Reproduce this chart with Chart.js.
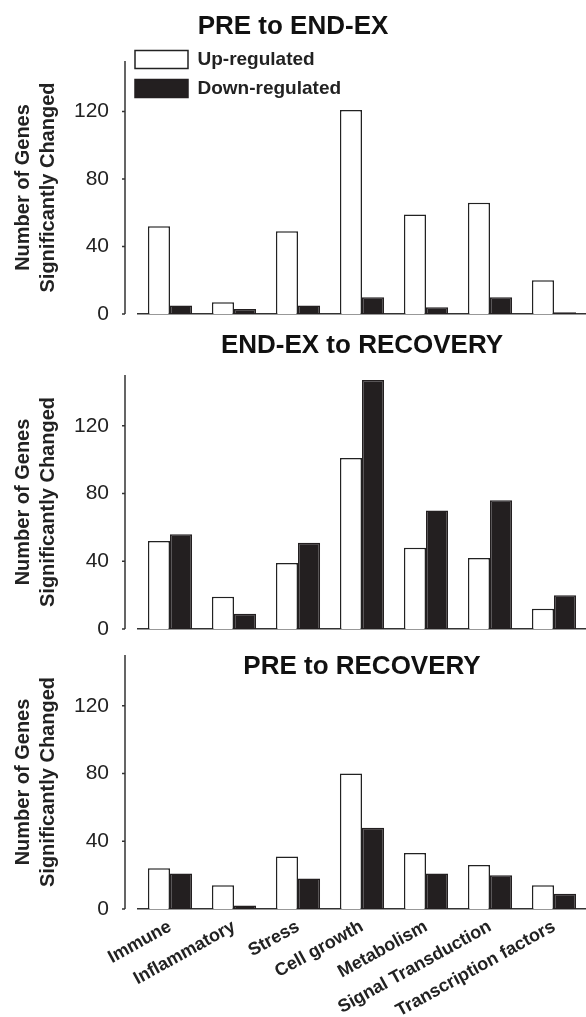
<!DOCTYPE html>
<html>
<head>
<meta charset="utf-8">
<script src="https://cdn.jsdelivr.net/npm/chart.js@4.4.1/dist/chart.umd.min.js"></script>
<style>
  body { margin: 0; background: #fff; }
  .panel { position: absolute; left: 0; width: 586px; }
</style>
</head>
<body>
<div class="panel" style="top:0;height:330px"><canvas id="chartPreEnd"></canvas></div>
<div class="panel" style="top:330px;height:310px"><canvas id="chartEndRec"></canvas></div>
<div class="panel" style="top:640px;height:377px"><canvas id="chartPreRec"></canvas></div>
<script>
const categories = ['Immune', 'Inflammatory', 'Stress', 'Cell growth', 'Metabolism', 'Signal Transduction', 'Transcription factors'];
const yTicks = [0, 40, 80, 120];
const yMax = 150;

// PRE to END-EX
const preEndUp = [52, 7, 49, 121, 59, 66, 20];
const preEndDown = [5, 3, 5, 10, 4, 10, 1];
// END-EX to RECOVERY
const endRecUp = [52, 19, 39, 101, 48, 42, 12];
const endRecDown = [56, 9, 51, 147, 70, 76, 20];
// PRE to RECOVERY
const preRecUp = [24, 14, 31, 80, 33, 26, 14];
const preRecDown = [21, 2, 18, 48, 21, 20, 9];

const FONT = "'Liberation Sans', Arial, Helvetica, sans-serif";
const INK = '#231f20';

// y axis sits a bit left of the plot, detached from the x axis line
const detachedYAxis = {
    id: 'detachedYAxis',
    afterDraw(chart) {
        const y = chart.scales.y;
        const x0 = chart.chartArea.left - 13;
        const ctx = chart.ctx;
        ctx.save();
        ctx.strokeStyle = '#333';
        ctx.lineWidth = 1.5;
        ctx.beginPath();
        ctx.moveTo(x0, y.getPixelForValue(yMax));
        ctx.lineTo(x0, y.getPixelForValue(0));
        yTicks.forEach(v => {
            const py = y.getPixelForValue(v);
            ctx.moveTo(x0 - 3, py);
            ctx.lineTo(x0, py);
        });
        ctx.stroke();
        ctx.restore();
    }
};

// legend floats inside the top-left of the plot
const legendInPlot = {
    id: 'legendInPlot',
    afterLayout(chart) {
        const lg = chart.legend;
        if (!lg || !lg.options.display) return;
        const a = chart.chartArea;
        const w = lg.width, h = lg.height;
        lg.left = a.left - 13;
        lg.top = a.top - 21;
        lg.right = lg.left + w;
        lg.bottom = lg.top + h;
    }
};

function createBarChart(id, up, down, titleText, cfg) {
    const ctx = document.getElementById(id).getContext('2d');
    return new Chart(ctx, {
        type: 'bar',
        data: {
            labels: categories,
            datasets: [
                {
                    label: 'Up-regulated',
                    data: up,
                    backgroundColor: '#ffffff',
                    borderColor: '#222',
                    borderWidth: 1.5
                },
                {
                    label: 'Down-regulated',
                    data: down,
                    backgroundColor: INK,
                    borderColor: INK,
                    borderWidth: 1.5
                }
            ]
        },
        plugins: [detachedYAxis, legendInPlot],
        options: {
            responsive: true,
            maintainAspectRatio: false,
            animation: false,
            datasets: { bar: { categoryPercentage: 0.69, barPercentage: 1.0 } },
            layout: { padding: 0 },
            scales: {
                x: {
                    grid: { display: false, drawTicks: false },
                    border: { color: '#333', width: 1.5 },
                    ticks: {
                        display: cfg.showLabels,
                        autoSkip: false,
                        minRotation: 29,
                        maxRotation: 29,
                        padding: 7,
                        color: '#222',
                        font: { family: FONT, size: 18, weight: 'bold' }
                    },
                    afterFit: s => { s.height = cfg.xHeight; }
                },
                y: {
                    min: 0,
                    max: yMax,
                    grid: { display: false, drawTicks: true, tickLength: 29 },
                    border: { display: false },
                    afterBuildTicks: s => { s.ticks = yTicks.map(v => ({ value: v })); },
                    ticks: {
                        padding: 0,
                        color: '#222',
                        font: { family: FONT, size: 21, lineHeight: 1 }
                    },
                    title: {
                        display: true,
                        text: ['Number of Genes', 'Significantly Changed'],
                        color: '#222',
                        font: { family: FONT, size: 20, weight: 'bold', lineHeight: 1.25 },
                        padding: { top: 10.5, bottom: 0 }
                    },
                    afterFit: s => { s.width = 138; }
                }
            },
            plugins: {
                title: {
                    display: true,
                    text: titleText,
                    fullSize: cfg.titleFull,
                    color: '#111',
                    font: { family: FONT, size: 26, weight: 'bold', lineHeight: 1.2 },
                    padding: { top: cfg.titleTop, bottom: cfg.titleGap }
                },
                legend: {
                    display: cfg.legend,
                    position: 'chartArea',
                    align: 'start',
                    labels: {
                        boxWidth: 53,
                        boxHeight: 18,
                        padding: 10,
                        color: '#222',
                        font: { family: FONT, size: 19, weight: 'bold' }
                    }
                },
                tooltip: { enabled: false }
            }
        }
    });
}

createBarChart('chartPreEnd', preEndUp, preEndDown, 'PRE to END-EX',
    { showLabels: false, xHeight: 16, titleFull: true, titleTop: 11, titleGap: 18.8, legend: true });
createBarChart('chartEndRec', endRecUp, endRecDown, 'END-EX to RECOVERY',
    { showLabels: false, xHeight: 11, titleFull: false, titleTop: 0.5, titleGap: 13.3, legend: false });
createBarChart('chartPreRec', preRecUp, preRecDown, 'PRE to RECOVERY',
    { showLabels: true, xHeight: 108, titleFull: false, titleTop: 11, titleGap: -27.2, legend: false });
</script>
</body>
</html>
